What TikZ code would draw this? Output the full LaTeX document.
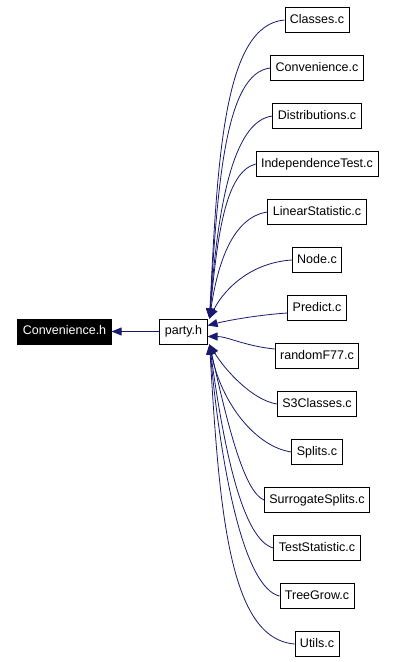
\documentclass[tikz,border=0pt]{standalone}
\usepackage{fontspec}
\setmainfont{Liberation Sans}
\usetikzlibrary{arrows.meta, positioning}
\definecolor{edgeblue}{HTML}{191970}
\tikzset{file/.style={draw, line width=0.8pt, fill=white, inner xsep=5pt, minimum height=25pt, text height=9pt, text depth=2.5pt}}
\tikzset{cur/.style={file, fill=black, text=white}}
\tikzset{edge/.style={draw=edgeblue, line width=0.8pt, -{Triangle[length=10pt, width=8pt]}, edgeblue}}

\begin{document}
\begin{tikzpicture}[x=1pt, y=-1pt, font=\fontsize{12.5}{15}\selectfont]

    \useasboundingbox (0,0) rectangle (395,662);

    % left part
    \node(convh)[cur] at (64.5,331.5){Convenience.h};
    \node(party)[file] at (183.5,331.5){party.h};
    \draw[edge] (party.west) -- (convh.east);

    % source files
    \node(cls) [file] at (317,20){Classes.c};
    \node(conv)[file] at (317,68){Convenience.c};
    \node(dist)[file] at (317,116){Distributions.c};
    \node(indep)[file] at (317,164){IndependenceTest.c};
    \node(lin) [file] at (317,212){LinearStatistic.c};
    \node(nd)  [file] at (317,260){Node.c};
    \node(pred)[file] at (317,308){Predict.c};
    \node(rf)  [file] at (317,356){randomF77.c};
    \node(sthr)[file] at (317,404){S3Classes.c};
    \node(spl) [file] at (317,452){Splits.c};
    \node(sur) [file] at (317,500){SurrogateSplits.c};
    \node(ts)  [file] at (317,548){TestStatistic.c};
    \node(tg)  [file] at (317,596){TreeGrow.c};
    \node(ut)  [file] at (317,644){Utils.c};

    % edges into the top corner
    \draw[edge] (cls.west)   .. controls +(-60,5) and +(8,-165) .. ([xshift=2pt]party.north east);
    \draw[edge] (conv.west)  .. controls +(-45,5) and +(8,-135) .. ([xshift=2pt]party.north east);
    \draw[edge] (dist.west)  .. controls +(-40,5) and +(8,-110) .. ([xshift=2pt]party.north east);
    \draw[edge] (indep.west) .. controls +(-30,8) and +(8,-85) .. ([xshift=2pt]party.north east);
    \draw[edge] (lin.west)   .. controls +(-35,5) and +(8,-55) .. ([xshift=2pt]party.north east);
    \draw[edge] (nd.west)    .. controls +(-45,3) and +(12,-25) .. ([xshift=2pt]party.north east);

    % edges into the side
    \draw[edge] ([yshift=-5pt]pred.west) .. controls +(-30,2) and +(20,-5) .. ([yshift=6pt]party.east);
    \draw[edge] ([yshift=7pt]rf.west)    .. controls +(-30,-3) and +(20,0) .. ([yshift=-5pt]party.east);

    % edges into the bottom corner
    \draw[edge] (sthr.west) .. controls +(-25,-4) and +(15,25) .. ([xshift=2pt]party.south east);
    \draw[edge] (spl.west)  .. controls +(-35,-5) and +(12,60) .. ([xshift=2pt]party.south east);
    \draw[edge] (sur.west)  .. controls +(-20,-8) and +(18,80) .. ([xshift=2pt]party.south east);
    \draw[edge] (ts.west)   .. controls +(-30,-8) and +(15,110) .. ([xshift=2pt]party.south east);
    \draw[edge] (tg.west)   .. controls +(-35,-8) and +(12,130) .. ([xshift=2pt]party.south east);
    \draw[edge] (ut.west)   .. controls +(-65,-5) and +(10,170) .. ([xshift=2pt]party.south east);

\end{tikzpicture}
\end{document}
